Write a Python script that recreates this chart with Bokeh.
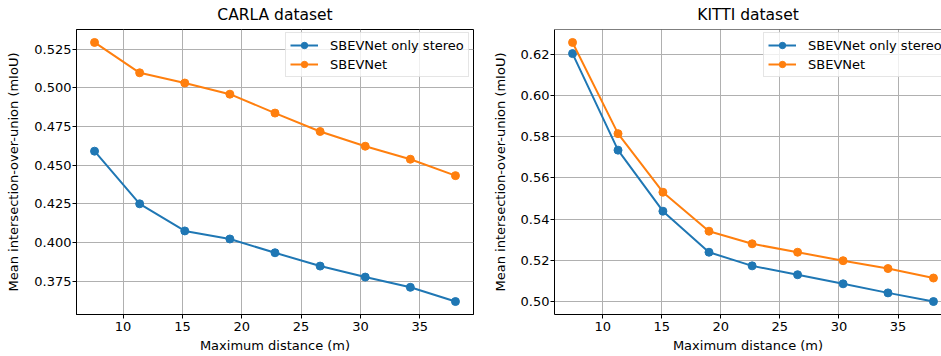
from bokeh.plotting import figure
from bokeh.layouts import row
from bokeh.models import Range1d, FixedTicker, PrintfTickFormatter, Span
from bokeh.embed import file_html
from bokeh.resources import INLINE

# ---- data ----
carla_dist = [7.6, 11.4, 15.2, 19.0, 22.8, 26.6, 30.4, 34.2, 38.0]
carla_stereo = [0.4591, 0.4251, 0.4076, 0.4024, 0.3935, 0.3849, 0.3778, 0.3712, 0.3620]
carla_full = [0.5293, 0.5097, 0.5031, 0.4959, 0.4837, 0.4718, 0.4623, 0.4539, 0.4433]

kitti_dist = [7.45, 11.3, 15.1, 19.0, 22.65, 26.5, 30.35, 34.15, 38.0]
kitti_stereo = [0.6203, 0.5735, 0.5439, 0.5240, 0.5174, 0.5131, 0.5087, 0.5043, 0.5001]
kitti_full = [0.6257, 0.5815, 0.5531, 0.5342, 0.5281, 0.5240, 0.5199, 0.5161, 0.5115]

x_ticks = [10, 15, 20, 25, 30, 35]
carla_y_ticks = [0.375, 0.400, 0.425, 0.450, 0.475, 0.500, 0.525]
kitti_y_ticks = [0.50, 0.52, 0.54, 0.56, 0.58, 0.60, 0.62]

series_names = ["SBEVNet only stereo", "SBEVNet"]
colors = ["#1f77b4", "#ff7f0e"]

FONT = "DejaVu Sans"


def padded(lo, hi, m=0.05):
    r = hi - lo
    return lo - m * r, hi + m * r


def make_fig(title, xs, ys_list, yticks, yfmt, width, bl, br, visible_frac=1.0):
    x0, x1 = padded(min(xs), max(xs))
    x1 = x0 + (x1 - x0) * visible_frac
    allv = [v for ys in ys_list for v in ys]
    y0, y1 = padded(min(allv), max(allv))
    p = figure(width=width, height=356, output_backend="svg", toolbar_location=None,
               x_range=Range1d(x0, x1), y_range=Range1d(y0, y1),
               min_border_left=bl, min_border_right=br, min_border_top=29, min_border_bottom=42,
               title=title)
    p.title.align = "center"
    p.title.text_font = FONT
    p.title.text_font_size = "15.5px"
    p.title.text_font_style = "normal"
    p.title.text_color = "black"
    p.title.standoff = 7
    p.title.vertical_align = "top"

    for ys, name, c in zip(ys_list, series_names, colors):
        p.line(xs, ys, line_color=c, line_width=2, legend_label=name)
        p.scatter(xs, ys, size=8, fill_color=c, line_color=c, legend_label=name)

    for ax in (p.xaxis[0], p.yaxis[0]):
        ax.axis_line_color = "black"
        ax.axis_line_width = 1
        ax.major_tick_line_color = "black"
        ax.major_tick_out = 4
        ax.major_tick_in = 0
        ax.minor_tick_line_color = None
        ax.major_label_text_font = FONT
        ax.major_label_text_font_size = "13px"
        ax.major_label_text_color = "black"
        ax.axis_label_text_font = FONT
        ax.axis_label_text_font_size = "13px"
        ax.axis_label_text_font_style = "normal"
        ax.axis_label_text_color = "black"

    p.xaxis.ticker = FixedTicker(ticks=x_ticks)
    p.xaxis.formatter = PrintfTickFormatter(format="%d")
    p.xaxis.axis_label = "Maximum distance (m)"
    p.xaxis.major_label_standoff = 3
    p.xaxis.axis_label_standoff = 4

    p.yaxis.ticker = FixedTicker(ticks=yticks)
    p.yaxis.formatter = PrintfTickFormatter(format=yfmt)
    p.yaxis.axis_label = "Mean intersection-over-union (mIoU)"
    p.yaxis.major_label_standoff = 1
    p.yaxis.axis_label_standoff = 10

    for g in (p.xgrid[0], p.ygrid[0]):
        g.grid_line_color = "#b0b0b0"
        g.grid_line_width = 1

    p.outline_line_color = "black"
    p.outline_line_width = 1

    lg = p.legend[0]
    lg.location = (209, 237)
    lg.border_line_color = "#cccccc"
    lg.border_line_width = 1
    lg.background_fill_alpha = 0.8
    lg.label_text_font = FONT
    lg.label_text_font_size = "13px"
    lg.label_text_color = "black"
    lg.glyph_width = 28
    lg.glyph_height = 16
    lg.label_height = 16
    lg.label_standoff = 12
    lg.padding = 4
    lg.spacing = 3
    lg.margin = 0
    return p


p1 = make_fig("CARLA dataset", carla_dist, [carla_stereo, carla_full], carla_y_ticks,
              "%.3f", 480, 76, 7)
p2 = make_fig("KITTI dataset", kitti_dist, [kitti_stereo, kitti_full], kitti_y_ticks,
              "%.2f", 461, 74, 0, visible_frac=387 / 397)
p2.outline_line_color = None
p2.add_layout(Span(location=p2.y_range.end, dimension="width", line_color="black", line_width=1))

layout = row(p1, p2)
open("out.html", "w").write(file_html(layout, INLINE))
